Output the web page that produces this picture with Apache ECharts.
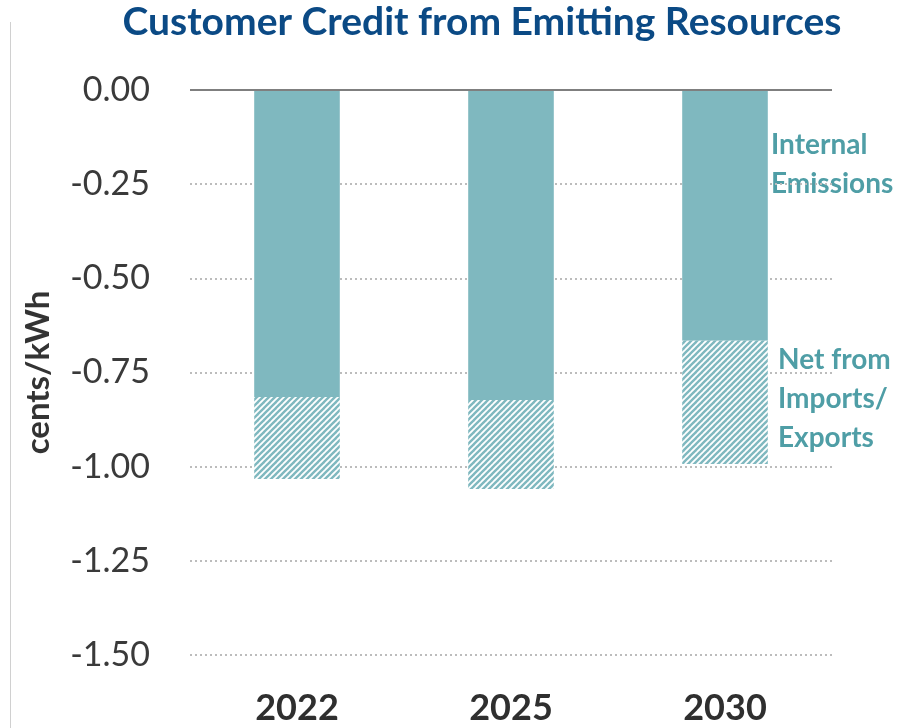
<!DOCTYPE html>
<html>
<head>
<meta charset="utf-8">
<script src="https://cdn.jsdelivr.net/npm/echarts@6/dist/echarts.min.js"></script>
<style>
  html, body { margin: 0; padding: 0; background: #fff; }
  #chart { width: 904px; height: 728px; }
</style>
</head>
<body>
<div id="chart"></div>
<script>
// Chart data (cents/kWh)
const years = ['2022', '2025', '2030'];
const internalEmissions = [-0.815, -0.823, -0.666];
const netImportsExports = [-0.218, -0.236, -0.327];
const yTicks = { min: -1.5, max: 0, step: 0.25 };

const TEAL = '#7fb8bf';
const LABEL_TEAL = '#4f9ea6';

// Diagonal hatch fill for the imports/exports segment
function makeHatch() {
  const s = 6;
  const c = document.createElement('canvas');
  c.width = s; c.height = s;
  const g = c.getContext('2d');
  g.fillStyle = '#ffffff';
  g.fillRect(0, 0, s, s);
  g.strokeStyle = TEAL;
  g.lineWidth = 2.4;
  for (let k = -1; k <= 1; k++) {
    g.beginPath();
    g.moveTo(-1 + k * s, s + 1);
    g.lineTo(s + 1 + k * s, -1);
    g.stroke();
  }
  return c;
}

const chart = echarts.init(document.getElementById('chart'));
chart.setOption({
  animation: false,
  title: {
    text: 'Customer Credit from Emitting Resources',
    left: 477, top: -2, textAlign: 'center',
    textStyle: { fontFamily: 'Lato', fontWeight: 'bold', fontSize: 39, color: '#0b4a85' }
  },
  grid: { left: 190, right: 72, top: 90, bottom: 73 },
  xAxis: {
    type: 'category',
    data: years,
    position: 'bottom',
    axisLine: { show: false },
    axisTick: { show: false },
    axisLabel: { margin: 35, fontFamily: 'Lato', fontWeight: 'bold', fontSize: 36, color: '#2f2f2f' }
  },
  yAxis: {
    type: 'value',
    min: yTicks.min, max: yTicks.max, interval: yTicks.step,
    name: 'cents/kWh',
    nameLocation: 'middle',
    nameGap: 135,
    nameTextStyle: { fontFamily: 'Lato', fontWeight: 'bold', fontSize: 33, color: '#333' },
    axisLine: { show: false },
    axisTick: { show: false },
    axisLabel: {
      margin: 40, fontFamily: 'Lato', fontSize: 34, color: '#3a3a3a',
      formatter: v => v.toFixed(2)
    },
    splitLine: { lineStyle: { color: '#bcbcbc', type: [2, 3], width: 2 } }
  },
  series: [
    {
      name: 'Internal Emissions', type: 'bar', stack: 'credit',
      data: internalEmissions, barWidth: '40%',
      itemStyle: { color: TEAL }
    },
    {
      name: 'Net from Imports/Exports', type: 'bar', stack: 'credit',
      data: netImportsExports, barWidth: '40%',
      itemStyle: { color: { image: makeHatch(), repeat: 'repeat' } }
    }
  ],
  graphic: [
    { type: 'line', shape: { x1: 10.5, y1: 22, x2: 10.5, y2: 728 }, style: { stroke: '#d0d0d0', lineWidth: 1 } },
    { type: 'line', z: 10, shape: { x1: 190, y1: 90, x2: 832, y2: 90 }, style: { stroke: '#7f7f7f', lineWidth: 2 } },
    {
      type: 'text', left: 771, top: 125,
      style: { text: 'Internal\nEmissions', fontFamily: 'Lato', fontWeight: 'bold', fontSize: 28, lineHeight: 39, fill: LABEL_TEAL }
    },
    {
      type: 'text', left: 778, top: 340,
      style: { text: 'Net from\nImports/\nExports', fontFamily: 'Lato', fontWeight: 'bold', fontSize: 28, lineHeight: 39, fill: LABEL_TEAL }
    }
  ]
});
</script>
</body>
</html>
